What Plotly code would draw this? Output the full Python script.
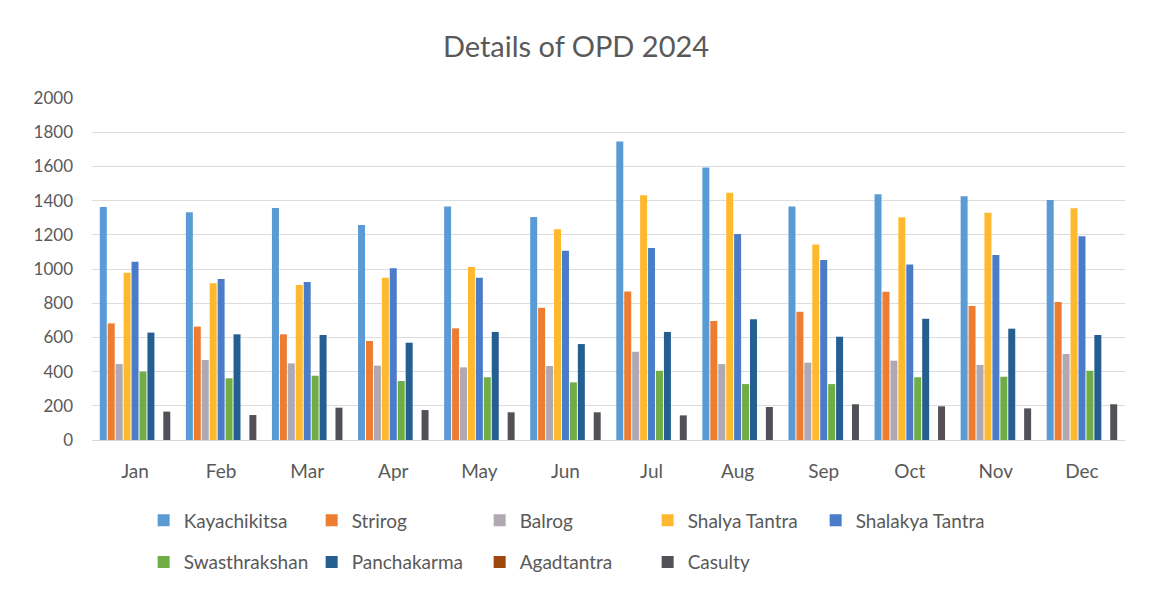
import plotly.graph_objects as go

months = ["Jan", "Feb", "Mar", "Apr", "May", "Jun", "Jul", "Aug", "Sep", "Oct", "Nov", "Dec"]

kayachikitsa = [1362, 1332, 1356, 1258, 1366, 1304, 1745, 1593, 1366, 1437, 1425, 1404]
strirog = [682, 663, 618, 579, 653, 774, 869, 696, 750, 867, 784, 807]
balrog = [444, 468, 448, 435, 425, 433, 516, 444, 452, 464, 439, 503]
shalya_tantra = [978, 916, 906, 949, 1012, 1232, 1431, 1446, 1144, 1302, 1329, 1355]
shalakya_tantra = [1043, 941, 924, 1004, 949, 1107, 1123, 1205, 1053, 1027, 1082, 1191]
swasthrakshan = [400, 361, 376, 345, 367, 337, 405, 327, 327, 367, 370, 405]
panchakarma = [628, 618, 614, 569, 632, 561, 632, 706, 604, 709, 651, 614]
agadtantra = [0, 0, 0, 0, 0, 0, 0, 0, 0, 0, 0, 0]
casulty = [166, 146, 189, 175, 162, 162, 144, 193, 209, 197, 185, 209]

series = [
    ("Kayachikitsa", kayachikitsa, "#5B9BD5", "legend"),
    ("Strirog", strirog, "#ED7D31", "legend"),
    ("Balrog", balrog, "#B0A9B3", "legend"),
    ("Shalya Tantra", shalya_tantra, "#FFB92E", "legend"),
    ("Shalakya Tantra", shalakya_tantra, "#4A7CC9", "legend"),
    ("Swasthrakshan", swasthrakshan, "#70AD47", "legend2"),
    ("Panchakarma", panchakarma, "#255E91", "legend2"),
    ("Agadtantra", agadtantra, "#9E480E", "legend2"),
    ("Casulty", casulty, "#545058", "legend2"),
]

FONT = "Lato"
TXT = "#595959"

fig = go.Figure()
for name, vals, color, lg in series:
    fig.add_trace(go.Bar(x=months, y=vals, name=name, marker_color=color,
                         marker_line_width=0, legend=lg))

legend_common = dict(
    orientation="h", xanchor="left", yanchor="middle",
    font=dict(family=FONT, size=19, color=TXT),
    entrywidth=123, entrywidthmode="pixels",
    itemwidth=30, bgcolor="rgba(0,0,0,0)", tracegroupgap=0,
    traceorder="normal",
)

fig.update_layout(
    width=1152, height=591,
    paper_bgcolor="white", plot_bgcolor="white",
    margin=dict(l=92, r=27, t=98, b=151, autoexpand=False),
    title=dict(text="Details of OPD 2024", x=0.5, xanchor="center", y=0.92, yanchor="middle",
               font=dict(family=FONT, size=29, color=TXT)),
    barmode="group", bargap=0.17, bargroupgap=0.12,
    xaxis=dict(showgrid=False, showline=True, linecolor="#d9d9d9", linewidth=1,
               tickfont=dict(family=FONT, size=19, color=TXT), ticks="",
               ticklabelstandoff=14),
    yaxis=dict(range=[0, 2000], dtick=200, showgrid=True, gridcolor="#dcdcdc",
               gridwidth=1, zeroline=False, showline=False,
               tickfont=dict(family=FONT, size=17, color=TXT), ticks="",
               ticklabelstandoff=18),
    legend=dict(x=0.05, y=-0.235, **legend_common),
    legend2=dict(x=0.05, y=-0.357, **legend_common),
    showlegend=True,
)

fig.write_html("out.html", config={"displayModeBar": False},
               post_script="document.body.style.margin='0px';")
